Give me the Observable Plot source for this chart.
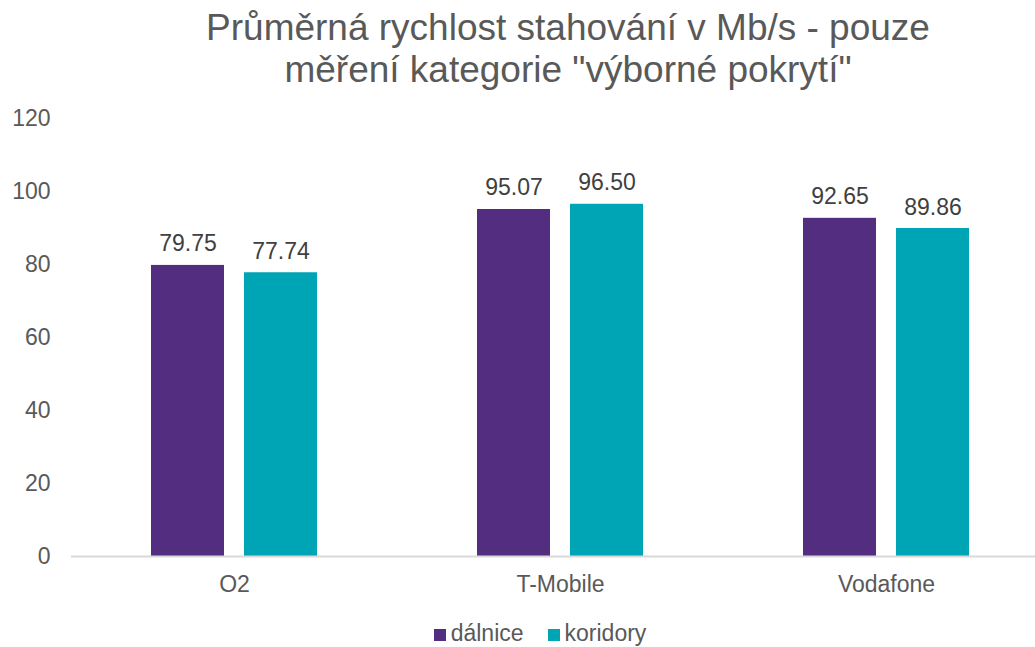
<!DOCTYPE html>
<html><head><meta charset="utf-8">
<script src="https://cdn.jsdelivr.net/npm/d3@7"></script>
<script src="https://cdn.jsdelivr.net/npm/@observablehq/plot@0.6"></script>
<style>
body{margin:0;background:#fff;font-family:"Liberation Sans",Arial,sans-serif;}
#wrap{position:relative;width:1035px;height:647px;overflow:hidden;}
#title{position:absolute;left:0;top:7px;width:1136px;text-align:center;font-size:37px;line-height:42px;color:#595959;}
#chart{position:absolute;left:0;top:100px;}
#legend{position:absolute;left:0;top:620px;width:1080px;text-align:center;font-size:23px;color:#595959;white-space:nowrap;}
#legend span.sw{display:inline-block;width:12px;height:12px;margin-right:5px;vertical-align:0px;}
#legend span.item{margin:0 12px;}
</style></head><body>
<div id="wrap">
<div id="title">Průměrná rychlost stahování v Mb/s - pouze<br>měření kategorie "výborné pokrytí"</div>
<div id="chart"></div>
<div id="legend"></div>
</div>
<script>
const operators = ["O2", "T-Mobile", "Vodafone"];
const seriesNames = ["dálnice", "koridory"];
const dalnice = [79.75, 95.07, 92.65];
const koridory = [77.74, 96.50, 89.86];
const colors = ["#522D80", "#00A5B5"];
const yTicks = [0, 20, 40, 60, 80, 100, 120];

const rowsD = operators.map((op, i) => ({op, s: seriesNames[0], v: dalnice[i]}));
const rowsK = operators.map((op, i) => ({op, s: seriesNames[1], v: koridory[i]}));

// group band = 166px: two bars of 73px with a 20px gap
const inset = 93, half = 46.5;

const chart = Plot.plot({
  width: 1035,
  height: 500,
  marginTop: 18,
  marginBottom: 44,
  marginLeft: 71,
  marginRight: 0,
  style: {fontFamily: '"Liberation Sans", Arial, sans-serif', fontSize: "23px", color: "#595959", background: "transparent"},
  x: {domain: operators, range: [71, 1049], paddingInner: 0.4908, paddingOuter: 0.2454, label: null, tickSize: 0, tickPadding: 19},
  y: {domain: [0, 120], ticks: yTicks, label: null, tickSize: 0, tickPadding: 21},
  color: {domain: seriesNames, range: colors},
  marks: [
    Plot.barY(rowsD, {x: "op", y: "v", fill: "s", insetRight: inset}),
    Plot.barY(rowsK, {x: "op", y: "v", fill: "s", insetLeft: inset}),
    Plot.text(rowsD, {x: "op", y: "v", text: d => d.v.toFixed(2), dx: -half, lineAnchor: "bottom", dy: -14, fill: "#404040", fontSize: 23}),
    Plot.text(rowsK, {x: "op", y: "v", text: d => d.v.toFixed(2), dx: half, lineAnchor: "bottom", dy: -14, fill: "#404040", fontSize: 23}),
    Plot.ruleY([0], {stroke: "#d9d9d9", strokeWidth: 2})
  ]
});
document.getElementById("chart").appendChild(chart);

const leg = document.getElementById("legend");
seriesNames.forEach((s, i) => {
  const it = document.createElement("span");
  it.className = "item";
  it.innerHTML = `<span class="sw" style="background:${colors[i]}"></span>${s}`;
  leg.appendChild(it);
});
</script>
</body></html>
